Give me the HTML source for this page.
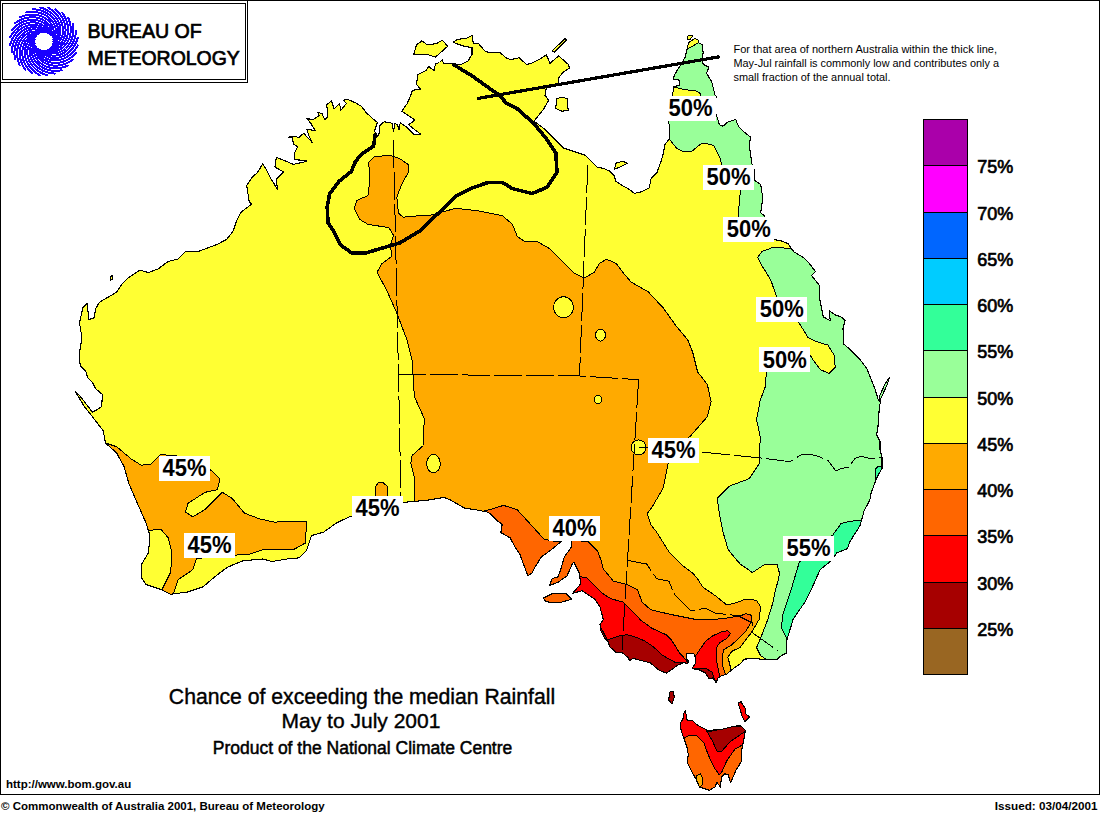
<!DOCTYPE html>
<html><head><meta charset="utf-8"><style>
html,body{margin:0;padding:0;background:#fff;width:1100px;height:813px;overflow:hidden}
svg{position:absolute;left:0;top:0;font-family:"Liberation Sans",sans-serif}
</style></head><body>
<svg width="1100" height="813" viewBox="0 0 1100 813" shape-rendering="crispEdges">
<rect x="0.5" y="0.5" width="1099" height="794" fill="#fff" stroke="#000" stroke-width="1"/>
<defs><clipPath id="land">
<polygon points="170.7,594.3 160.9,589.4 146.1,584.5 141.2,577.1 141.2,564.8 148.6,552.5 149.8,535.3 146.1,523.0 136.3,500.9 128.9,483.6 124.0,466.4 116.6,452.9 105.5,443.0 103.3,430.9 93.5,418.1 84.0,406.0 75.0,391.0 80.0,396.0 92.5,412.2 99.4,408.2 101.8,406.3 102.3,394.4 95.4,388.5 92.5,382.6 87.6,377.7 85.6,370.8 80.2,365.9 79.7,360.0 79.5,352.5 82.0,337.8 79.5,323.0 82.9,307.5 87.2,303.2 88.9,319.5 94.1,317.8 95.8,308.4 99.3,302.3 116.4,292.3 121.3,284.9 128.7,277.5 139.8,270.1 148.4,272.6 158.2,268.9 168.1,261.5 177.9,259.0 185.3,251.7 197.6,251.7 217.3,244.3 226.4,239.6 233.2,231.0 236.9,220.0 240.6,212.6 251.7,204.0 249.2,201.5 246.7,185.5 251.7,178.1 257.8,172.0 262.7,164.0 266.4,169.5 271.3,179.4 277.5,189.2 276.3,179.4 283.6,172.0 275.0,167.0 276.3,157.2 284.0,160.4 293.5,164.4 306.4,161.5 306.0,160.5 294.9,159.7 294.2,153.6 297.6,146.8 293.5,144.1 292.2,137.4 288.1,137.4 292.0,136.0 299.0,137.4 303.7,133.3 312.5,142.8 308.4,134.7 307.0,129.2 315.2,130.6 311.1,123.8 307.0,118.4 312.5,119.8 319.2,115.7 317.9,112.3 322.0,113.7 324.7,119.8 327.4,117.1 327.4,110.3 326.7,104.9 331.4,100.8 334.1,108.9 339.5,103.5 340.9,110.3 346.3,103.5 343.6,100.1 347.7,99.5 355.8,102.9 361.2,106.2 366.6,113.0 374.7,120.4 377.4,122.5 374.7,130.6 376.1,136.0 374.7,138.7 378.8,134.7 380.1,125.2 384.2,121.8 390.0,122.5 392.2,123.4 393.5,131.5 394.9,123.4 397.6,124.7 398.9,130.1 400.3,122.7 407.1,127.4 413.8,134.2 420.6,134.2 408.4,124.7 415.2,120.0 409.8,116.6 401.7,111.2 407.1,103.7 409.8,97.7 412.5,90.2 420.6,89.5 416.5,84.1 417.9,74.7 426.0,70.6 428.7,66.5 434.1,70.6 435.5,63.8 439.5,62.5 442.2,59.8 443.6,63.8 453.1,63.8 461.2,64.5 468.0,61.1 472.0,54.4 472.0,47.6 463.9,46.2 455.8,43.5 453.1,42.2 457.1,39.5 466.6,38.1 472.0,35.4 473.4,43.5 478.6,43.6 484.8,51.0 489.7,52.8 499.5,52.2 506.9,58.4 510.6,59.6 519.2,57.8 526.6,64.5 531.5,63.3 538.9,59.6 546.3,54.7 550.0,63.3 558.6,55.9 568.4,64.5 569.6,68.2 563.5,71.9 558.6,78.0 558.6,84.2 546.3,87.9 545.0,95.3 548.7,100.2 543.8,108.8 538.9,115.0 534.0,121.1 543.5,128.2 563.2,147.9 585.3,155.3 597.6,167.6 603.0,168.2 609.8,171.2 614.8,176.1 615.3,181.0 622.6,185.9 628.5,188.9 634.4,193.3 641.3,191.9 649.2,187.9 651.2,178.1 657.1,172.2 661.0,161.3 663.0,154.4 665.0,144.6 669.9,137.7 669.9,129.8 668.4,120.0 668.0,118.4 672.5,95.5 673.8,86.8 679.8,85.1 678.9,80.0 672.9,79.1 675.5,73.1 679.8,66.2 685.0,57.6 687.6,47.2 688.4,42.9 694.5,38.6 697.9,39.5 698.8,42.9 702.2,44.6 703.1,52.4 702.6,58.4 703.1,64.5 709.1,67.0 706.5,73.1 711.7,81.7 713.4,88.6 715.1,95.5 716.1,96.3 714.9,111.0 716.1,114.1 719.5,124.9 722.9,126.2 727.6,122.2 735.7,119.5 738.4,126.2 743.8,131.7 750.6,137.1 749.2,145.2 750.6,154.7 752.0,164.1 754.7,170.9 754.7,180.4 760.7,184.4 762.8,198.0 760.7,212.8 764.1,215.5 773.8,239.7 779.7,240.4 787.8,243.4 793.8,251.8 803.6,257.7 809.5,263.6 815.4,271.5 811.5,275.4 819.4,285.3 819.4,297.1 823.3,316.8 830.2,320.7 829.2,310.9 835.1,314.8 841.0,316.8 845.0,320.7 843.0,328.6 844.0,344.3 850.9,350.2 858.7,358.1 866.6,368.0 870.6,377.8 874.5,387.6 878.4,400.0 880.8,400.0 879.3,407.6 878.0,426.5 876.6,434.7 880.0,441.4 880.0,449.5 882.0,457.7 882.0,468.5 876.6,478.0 871.2,492.8 869.8,500.0 864.1,510.9 860.0,525.6 849.5,542.3 847.4,548.6 836.9,552.8 830.7,561.1 820.2,569.5 811.8,588.3 805.6,600.9 793.0,619.7 786.7,640.6 786.3,653.0 781.0,655.8 776.9,659.8 767.4,659.8 753.9,658.5 744.4,659.1 740.0,664.1 732.8,669.0 726.9,674.0 721.0,676.0 718.0,677.9 716.1,682.8 713.1,677.9 709.2,678.9 705.3,673.0 699.4,670.0 694.4,669.0 692.5,668.0 695.0,664.0 696.0,659.0 694.0,654.0 690.0,653.0 686.6,654.0 686.0,658.0 689.0,662.0 687.0,664.0 684.6,662.2 677.7,665.1 673.8,668.0 666.4,673.1 659.0,670.2 650.2,662.8 641.3,660.6 633.2,658.4 629.5,660.6 628.0,657.6 622.1,652.5 616.2,652.5 609.6,646.6 608.1,641.4 604.4,637.7 600.7,630.3 600.0,624.4 603.3,619.8 599.9,606.5 594.4,598.8 586.1,593.4 582.0,590.7 572.5,593.4 580.7,583.9 579.3,573.1 573.9,562.2 572.5,563.6 567.1,575.8 557.7,582.5 549.5,585.3 552.2,578.5 557.7,577.1 560.4,570.4 564.4,556.8 571.2,547.4 571.2,540.6 561.7,540.6 559.0,543.3 550.9,550.1 541.4,556.8 534.7,567.7 532.0,573.1 527.9,575.8 523.8,565.0 519.8,554.1 514.4,546.0 510.3,537.9 500.8,532.5 502.2,524.4 496.8,520.3 490.0,513.5 486.9,512.0 474.6,509.5 464.8,508.3 450.0,499.7 444.0,497.4 429.2,500.0 403.4,502.4 348.4,517.2 336.1,523.3 323.8,532.0 311.5,535.6 306.6,550.4 299.2,557.8 286.9,559.0 272.1,561.5 262.3,559.0 250.0,560.2 242.0,561.1 227.3,567.3 217.4,574.7 202.7,587.0 187.9,591.9"/>
<polygon points="413.8,54.4 416.5,44.9 421.9,40.8 427.4,44.9 436.8,43.5 442.2,40.1 447.7,46.2 435.5,57.1 427.4,54.4"/>
<polygon points="556.0,99.0 562.0,97.0 568.0,99.0 567.0,104.0 568.4,110.0 562.0,111.3 555.0,108.0 557.0,103.0"/>
<polygon points="552.0,51.0 554.5,52.0 566.5,40.0 565.0,38.5"/>
<polygon points="110.0,277.0 112.0,275.5 113.0,279.0 110.5,280.0"/>
<polygon points="687.1,36.5 690.0,35.2 692.7,36.0 690.0,39.5 687.5,39.0"/>
<polygon points="614.6,169.2 615.7,163.3 622.6,161.3 627.6,163.3 623.6,165.3 619.7,167.2"/>
<polygon points="543.5,598.0 553.3,593.2 565.6,593.2 571.8,599.3 558.2,603.0 546.0,601.8"/>
<polygon points="889.3,377.8 887.0,385.0 882.0,396.0 879.0,402.0 880.0,395.0 885.0,384.0"/>
<polygon points="684.4,711.1 682.8,719.4 680.5,722.7 681.1,730.5 683.9,738.2 687.2,748.2 688.3,754.8 687.2,762.6 691.6,771.4 696.0,779.2 699.4,787.0 709.3,790.3 714.9,787.0 717.1,782.5 720.4,787.0 721.5,777.0 724.8,773.7 728.2,774.8 730.4,782.5 732.6,778.1 735.9,770.3 741.4,761.5 741.4,751.5 743.7,740.4 745.3,730.5 740.3,725.5 732.6,726.6 721.5,729.4 708.2,730.5 697.1,724.9 692.2,720.0 687.2,720.5 685.5,711.0"/><polygon points="670.0,692.0 673.0,691.0 674.4,697.0 672.0,704.0 668.5,700.0"/><polygon points="738.0,703.0 741.0,701.7 745.0,708.0 746.0,714.0 749.6,717.0 745.0,721.7 742.0,716.0 740.0,709.0"/>
</clipPath></defs>
<g clip-path="url(#land)">
<rect x="0" y="0" width="1100" height="813" fill="#FFFF33"/>
<polygon points="660.0,139.0 669.9,139.7 676.8,148.5 682.7,151.5 691.5,151.5 700.0,144.6 703.8,143.0 713.6,145.5 719.8,157.8 720.7,160.0 722.3,172.5 740.6,189.5 739.1,204.3 738.4,216.8 738.0,232.0 800.0,232.0 800.0,20.0 660.0,20.0" fill="#99FF99" stroke="#000" stroke-width="1" stroke-linejoin="round"/>
<polygon points="684.0,34.0 700.0,34.0 698.3,42.9 688.4,48.5 684.0,48.5" fill="#FFFF33" stroke="#000" stroke-width="1" stroke-linejoin="round"/>
<polygon points="668.0,86.8 672.9,86.8 684.1,89.4 697.0,91.2 700.5,93.7 701.0,100.0 668.0,100.0" fill="#FFFF33" stroke="#000" stroke-width="1" stroke-linejoin="round"/>
<polygon points="790.0,248.6 773.8,247.1 762.0,251.5 757.6,257.4 760.5,263.3 770.8,280.0 776.3,296.0 780.0,310.0 798.4,321.8 808.2,337.8 815.6,341.4 828.0,345.1 834.0,355.0 835.3,367.3 829.2,373.4 820.5,369.7 813.2,360.0 810.0,355.0 790.0,365.0 766.4,372.0 765.2,387.0 760.3,400.0 756.6,419.7 760.3,437.0 759.0,464.0 749.2,478.7 729.5,486.1 717.2,498.4 719.7,515.6 723.0,532.0 728.0,549.2 734.4,557.4 740.2,564.0 752.5,572.6 764.0,564.8 777.1,564.0 779.6,573.8 778.2,580.0 774.7,593.5 772.8,603.0 767.4,620.6 760.6,638.2 756.6,647.6 760.6,655.8 767.4,659.8 780.0,700.0 950.0,700.0 950.0,240.0 800.0,240.0" fill="#99FF99" stroke="#000" stroke-width="1" stroke-linejoin="round"/>
<polygon points="862.0,520.0 849.5,521.4 841.1,523.5 832.8,535.0 799.3,562.2 790.9,590.4 782.6,615.5 781.5,628.1 786.7,638.5 800.0,660.0 900.0,660.0 900.0,520.0" fill="#33FF99" stroke="#000" stroke-width="1" stroke-linejoin="round"/>
<polygon points="875.2,478.0 875.5,469.0 878.0,466.5 890.0,466.0 890.0,480.0" fill="#33FF99" stroke="#000" stroke-width="1" stroke-linejoin="round"/>
<polygon points="368.8,162.0 374.4,156.4 390.4,155.6 400.0,158.8 408.0,164.4 408.8,171.6 401.6,184.4 396.8,197.2 398.4,213.2 403.2,217.2 420.0,215.6 428.7,215.7 455.8,208.3 477.9,210.8 502.5,215.7 512.4,224.3 517.3,236.6 524.7,241.5 537.0,241.5 550.0,248.9 562.3,261.2 574.6,273.5 584.4,277.9 594.3,272.2 599.2,263.6 606.6,259.2 616.4,263.6 623.8,273.5 631.2,282.1 648.4,292.0 663.2,307.9 675.5,325.1 687.8,339.9 692.7,352.2 697.6,371.9 707.4,384.6 711.1,401.8 707.4,416.6 690.2,436.3 672.0,450.0 668.1,463.3 663.2,487.9 653.3,505.1 647.2,513.8 650.9,524.8 656.6,532.0 668.9,551.7 683.6,566.4 693.5,573.8 698.4,580.0 702.5,586.8 716.0,596.2 726.8,605.0 737.6,602.3 745.8,599.0 756.6,600.3 760.6,607.0 759.3,619.2 751.2,632.8 740.0,647.4 731.9,651.3 727.9,657.2 730.9,669.0 731.0,690.0 414.0,690.0 414.4,500.0 414.4,477.8 410.8,463.0 412.0,455.6 423.0,445.8 424.3,418.7 414.4,396.6 412.0,359.7 407.0,340.0 396.7,312.8 386.9,290.7 377.0,272.2 382.0,263.6 391.8,256.3 390.4,245.0 393.6,235.6 388.8,227.6 368.0,224.4 360.0,219.6 354.4,208.4 356.8,200.4 368.0,195.6 369.6,182.8" fill="#FFAA00" stroke="#000" stroke-width="1" stroke-linejoin="round"/>
<polygon points="105.5,443.0 116.6,446.7 131.3,459.0 141.2,465.2 151.0,464.0 160.9,454.1 168.2,455.3 190.0,457.0 212.5,471.3 219.9,478.7 217.4,489.8 205.1,492.3 188.0,503.3 185.5,512.0 192.8,516.9 205.1,509.5 222.4,492.3 232.2,498.4 244.5,513.2 260.0,519.0 274.6,522.1 306.6,521.0 305.4,543.0 294.3,549.2 264.8,549.2 250.0,554.0 237.1,555.0 210.0,557.0 196.5,558.7 192.8,569.7 178.1,579.6 173.2,594.3 173.0,615.0 160.0,615.0 162.1,589.4 170.7,572.2 172.0,552.5 168.2,537.8 160.9,529.2 149.8,530.4 120.0,530.0 90.0,443.0" fill="#FFAA00" stroke="#000" stroke-width="1" stroke-linejoin="round"/>
<polygon points="376.0,496.3 375.5,487.0 378.0,483.0 383.0,482.7 387.0,486.0 387.8,496.3" fill="#FFAA00" stroke="#000" stroke-width="1" stroke-linejoin="round"/>
<ellipse cx="563.5" cy="307.3" rx="10" ry="10.5" fill="#FFFF33" stroke="#000" stroke-width="1"/>
<ellipse cx="600.5" cy="335" rx="5" ry="6" fill="#FFFF33" stroke="#000" stroke-width="1"/>
<ellipse cx="598" cy="399.7" rx="3.8" ry="4" fill="#FFFF33" stroke="#000" stroke-width="1"/>
<ellipse cx="638.6" cy="447.4" rx="7.5" ry="7.5" fill="#FFFF33" stroke="#000" stroke-width="1"/>
<ellipse cx="433.5" cy="463.6" rx="6.8" ry="9.2" fill="#FFFF33" stroke="#000" stroke-width="1"/>
<polygon points="480.0,512.0 490.0,509.5 503.5,505.4 517.0,509.5 530.6,524.4 544.1,539.2 557.6,541.9 570.5,540.3 587.8,541.5 597.6,551.3 601.0,560.0 603.3,568.9 613.2,581.0 626.5,584.4 637.6,589.9 642.0,602.1 650.9,609.8 670.0,614.3 697.4,619.8 721.0,618.9 740.0,615.9 745.8,613.8 751.2,615.2 751.2,622.0 745.8,631.4 738.7,638.5 730.9,645.4 724.0,649.4 723.0,653.3 722.0,664.1 725.0,673.0 725.0,690.0 480.0,690.0" fill="#FF6600" stroke="#000" stroke-width="1" stroke-linejoin="round"/>
<polygon points="572.0,590.0 580.0,576.6 586.6,577.7 602.1,593.2 611.0,598.8 623.2,602.1 633.2,612.0 640.6,620.0 651.7,628.1 660.0,632.1 666.4,634.8 670.8,639.2 673.8,643.5 679.7,653.3 683.6,657.2 690.0,665.0 695.9,655.3 701.3,647.4 706.3,640.5 713.1,635.6 721.0,632.1 727.9,630.7 730.4,633.6 726.9,638.5 720.0,642.5 716.6,647.4 716.1,654.3 717.1,664.1 719.1,673.0 719.0,690.0 600.0,690.0 590.0,615.0 573.0,598.0" fill="#FF0000" stroke="#000" stroke-width="1" stroke-linejoin="round"/>
<polygon points="598.0,622.0 607.4,640.0 620.7,635.5 626.6,634.8 633.2,636.2 644.3,640.7 653.1,646.6 662.7,655.4 674.8,662.2 682.6,663.1 684.0,672.0 680.0,690.0 598.0,690.0" fill="#A60000" stroke="#000" stroke-width="1" stroke-linejoin="round"/>
<polygon points="694.4,668.0 705.0,668.0 712.0,672.0 714.0,678.0 716.5,684.0 709.0,681.0 700.0,674.0" fill="#A60000" stroke="#000" stroke-width="1" stroke-linejoin="round"/>
<polygon points="684.4,711.1 682.8,719.4 680.5,722.7 681.1,730.5 683.9,738.2 687.2,748.2 688.3,754.8 687.2,762.6 691.6,771.4 696.0,779.2 699.4,787.0 709.3,790.3 714.9,787.0 717.1,782.5 720.4,787.0 721.5,777.0 724.8,773.7 728.2,774.8 730.4,782.5 732.6,778.1 735.9,770.3 741.4,761.5 741.4,751.5 743.7,740.4 745.3,730.5 740.3,725.5 732.6,726.6 721.5,729.4 708.2,730.5 697.1,724.9 692.2,720.0 687.2,720.5 685.5,711.0" fill="#FF0000"/>
<polygon points="705.0,728.0 709.3,731.6 719.3,729.4 732.6,726.6 741.4,726.0 748.0,730.0 744.8,731.6 730.4,741.5 721.5,751.5 717.1,751.5 712.7,741.5" fill="#A60000" stroke="#000" stroke-width="1" stroke-linejoin="round"/>
<polygon points="676.0,738.5 683.9,738.2 689.4,735.5 697.1,736.0 703.8,742.7 708.2,754.8 713.8,767.0 719.3,774.8 721.5,772.6 727.0,760.4 734.8,749.3 742.6,744.9 752.0,744.0 752.0,800.0 676.0,800.0" fill="#FF6600" stroke="#000" stroke-width="1" stroke-linejoin="round"/>
<polygon points="696,775.9 700.5,773.7 702.7,778.1 702.7,784.7 699.4,787 697,781" fill="#FFAA00" stroke="#000" stroke-width="1"/>
<polygon points="670.0,692.0 673.0,691.0 674.4,697.0 672.0,704.0 668.5,700.0" fill="#A60000"/>
<polygon points="738.0,703.0 741.0,701.7 745.0,708.0 746.0,714.0 749.6,717.0 745.0,721.7 742.0,716.0 740.0,709.0" fill="#FF0000"/>
</g>
<g fill="none" stroke="#000" stroke-width="1.1" stroke-linejoin="round">
<polygon points="170.7,594.3 160.9,589.4 146.1,584.5 141.2,577.1 141.2,564.8 148.6,552.5 149.8,535.3 146.1,523.0 136.3,500.9 128.9,483.6 124.0,466.4 116.6,452.9 105.5,443.0 103.3,430.9 93.5,418.1 84.0,406.0 75.0,391.0 80.0,396.0 92.5,412.2 99.4,408.2 101.8,406.3 102.3,394.4 95.4,388.5 92.5,382.6 87.6,377.7 85.6,370.8 80.2,365.9 79.7,360.0 79.5,352.5 82.0,337.8 79.5,323.0 82.9,307.5 87.2,303.2 88.9,319.5 94.1,317.8 95.8,308.4 99.3,302.3 116.4,292.3 121.3,284.9 128.7,277.5 139.8,270.1 148.4,272.6 158.2,268.9 168.1,261.5 177.9,259.0 185.3,251.7 197.6,251.7 217.3,244.3 226.4,239.6 233.2,231.0 236.9,220.0 240.6,212.6 251.7,204.0 249.2,201.5 246.7,185.5 251.7,178.1 257.8,172.0 262.7,164.0 266.4,169.5 271.3,179.4 277.5,189.2 276.3,179.4 283.6,172.0 275.0,167.0 276.3,157.2 284.0,160.4 293.5,164.4 306.4,161.5 306.0,160.5 294.9,159.7 294.2,153.6 297.6,146.8 293.5,144.1 292.2,137.4 288.1,137.4 292.0,136.0 299.0,137.4 303.7,133.3 312.5,142.8 308.4,134.7 307.0,129.2 315.2,130.6 311.1,123.8 307.0,118.4 312.5,119.8 319.2,115.7 317.9,112.3 322.0,113.7 324.7,119.8 327.4,117.1 327.4,110.3 326.7,104.9 331.4,100.8 334.1,108.9 339.5,103.5 340.9,110.3 346.3,103.5 343.6,100.1 347.7,99.5 355.8,102.9 361.2,106.2 366.6,113.0 374.7,120.4 377.4,122.5 374.7,130.6 376.1,136.0 374.7,138.7 378.8,134.7 380.1,125.2 384.2,121.8 390.0,122.5 392.2,123.4 393.5,131.5 394.9,123.4 397.6,124.7 398.9,130.1 400.3,122.7 407.1,127.4 413.8,134.2 420.6,134.2 408.4,124.7 415.2,120.0 409.8,116.6 401.7,111.2 407.1,103.7 409.8,97.7 412.5,90.2 420.6,89.5 416.5,84.1 417.9,74.7 426.0,70.6 428.7,66.5 434.1,70.6 435.5,63.8 439.5,62.5 442.2,59.8 443.6,63.8 453.1,63.8 461.2,64.5 468.0,61.1 472.0,54.4 472.0,47.6 463.9,46.2 455.8,43.5 453.1,42.2 457.1,39.5 466.6,38.1 472.0,35.4 473.4,43.5 478.6,43.6 484.8,51.0 489.7,52.8 499.5,52.2 506.9,58.4 510.6,59.6 519.2,57.8 526.6,64.5 531.5,63.3 538.9,59.6 546.3,54.7 550.0,63.3 558.6,55.9 568.4,64.5 569.6,68.2 563.5,71.9 558.6,78.0 558.6,84.2 546.3,87.9 545.0,95.3 548.7,100.2 543.8,108.8 538.9,115.0 534.0,121.1 543.5,128.2 563.2,147.9 585.3,155.3 597.6,167.6 603.0,168.2 609.8,171.2 614.8,176.1 615.3,181.0 622.6,185.9 628.5,188.9 634.4,193.3 641.3,191.9 649.2,187.9 651.2,178.1 657.1,172.2 661.0,161.3 663.0,154.4 665.0,144.6 669.9,137.7 669.9,129.8 668.4,120.0 668.0,118.4 672.5,95.5 673.8,86.8 679.8,85.1 678.9,80.0 672.9,79.1 675.5,73.1 679.8,66.2 685.0,57.6 687.6,47.2 688.4,42.9 694.5,38.6 697.9,39.5 698.8,42.9 702.2,44.6 703.1,52.4 702.6,58.4 703.1,64.5 709.1,67.0 706.5,73.1 711.7,81.7 713.4,88.6 715.1,95.5 716.1,96.3 714.9,111.0 716.1,114.1 719.5,124.9 722.9,126.2 727.6,122.2 735.7,119.5 738.4,126.2 743.8,131.7 750.6,137.1 749.2,145.2 750.6,154.7 752.0,164.1 754.7,170.9 754.7,180.4 760.7,184.4 762.8,198.0 760.7,212.8 764.1,215.5 773.8,239.7 779.7,240.4 787.8,243.4 793.8,251.8 803.6,257.7 809.5,263.6 815.4,271.5 811.5,275.4 819.4,285.3 819.4,297.1 823.3,316.8 830.2,320.7 829.2,310.9 835.1,314.8 841.0,316.8 845.0,320.7 843.0,328.6 844.0,344.3 850.9,350.2 858.7,358.1 866.6,368.0 870.6,377.8 874.5,387.6 878.4,400.0 880.8,400.0 879.3,407.6 878.0,426.5 876.6,434.7 880.0,441.4 880.0,449.5 882.0,457.7 882.0,468.5 876.6,478.0 871.2,492.8 869.8,500.0 864.1,510.9 860.0,525.6 849.5,542.3 847.4,548.6 836.9,552.8 830.7,561.1 820.2,569.5 811.8,588.3 805.6,600.9 793.0,619.7 786.7,640.6 786.3,653.0 781.0,655.8 776.9,659.8 767.4,659.8 753.9,658.5 744.4,659.1 740.0,664.1 732.8,669.0 726.9,674.0 721.0,676.0 718.0,677.9 716.1,682.8 713.1,677.9 709.2,678.9 705.3,673.0 699.4,670.0 694.4,669.0 692.5,668.0 695.0,664.0 696.0,659.0 694.0,654.0 690.0,653.0 686.6,654.0 686.0,658.0 689.0,662.0 687.0,664.0 684.6,662.2 677.7,665.1 673.8,668.0 666.4,673.1 659.0,670.2 650.2,662.8 641.3,660.6 633.2,658.4 629.5,660.6 628.0,657.6 622.1,652.5 616.2,652.5 609.6,646.6 608.1,641.4 604.4,637.7 600.7,630.3 600.0,624.4 603.3,619.8 599.9,606.5 594.4,598.8 586.1,593.4 582.0,590.7 572.5,593.4 580.7,583.9 579.3,573.1 573.9,562.2 572.5,563.6 567.1,575.8 557.7,582.5 549.5,585.3 552.2,578.5 557.7,577.1 560.4,570.4 564.4,556.8 571.2,547.4 571.2,540.6 561.7,540.6 559.0,543.3 550.9,550.1 541.4,556.8 534.7,567.7 532.0,573.1 527.9,575.8 523.8,565.0 519.8,554.1 514.4,546.0 510.3,537.9 500.8,532.5 502.2,524.4 496.8,520.3 490.0,513.5 486.9,512.0 474.6,509.5 464.8,508.3 450.0,499.7 444.0,497.4 429.2,500.0 403.4,502.4 348.4,517.2 336.1,523.3 323.8,532.0 311.5,535.6 306.6,550.4 299.2,557.8 286.9,559.0 272.1,561.5 262.3,559.0 250.0,560.2 242.0,561.1 227.3,567.3 217.4,574.7 202.7,587.0 187.9,591.9"/>
<polygon points="413.8,54.4 416.5,44.9 421.9,40.8 427.4,44.9 436.8,43.5 442.2,40.1 447.7,46.2 435.5,57.1 427.4,54.4"/>
<polygon points="556.0,99.0 562.0,97.0 568.0,99.0 567.0,104.0 568.4,110.0 562.0,111.3 555.0,108.0 557.0,103.0"/>
<polygon points="552.0,51.0 554.5,52.0 566.5,40.0 565.0,38.5"/>
<polygon points="110.0,277.0 112.0,275.5 113.0,279.0 110.5,280.0"/>
<polygon points="687.1,36.5 690.0,35.2 692.7,36.0 690.0,39.5 687.5,39.0"/>
<polygon points="614.6,169.2 615.7,163.3 622.6,161.3 627.6,163.3 623.6,165.3 619.7,167.2"/>
<polygon points="543.5,598.0 553.3,593.2 565.6,593.2 571.8,599.3 558.2,603.0 546.0,601.8"/>
<polygon points="889.3,377.8 887.0,385.0 882.0,396.0 879.0,402.0 880.0,395.0 885.0,384.0"/>
<polygon points="684.4,711.1 682.8,719.4 680.5,722.7 681.1,730.5 683.9,738.2 687.2,748.2 688.3,754.8 687.2,762.6 691.6,771.4 696.0,779.2 699.4,787.0 709.3,790.3 714.9,787.0 717.1,782.5 720.4,787.0 721.5,777.0 724.8,773.7 728.2,774.8 730.4,782.5 732.6,778.1 735.9,770.3 741.4,761.5 741.4,751.5 743.7,740.4 745.3,730.5 740.3,725.5 732.6,726.6 721.5,729.4 708.2,730.5 697.1,724.9 692.2,720.0 687.2,720.5 685.5,711.0"/><polygon points="670.0,692.0 673.0,691.0 674.4,697.0 672.0,704.0 668.5,700.0"/><polygon points="738.0,703.0 741.0,701.7 745.0,708.0 746.0,714.0 749.6,717.0 745.0,721.7 742.0,716.0 740.0,709.0"/>
</g>
<g fill="none" stroke="#000" stroke-width="1" stroke-dasharray="28,4">
<polyline points="393.4,140.0 398.5,374.4 401.0,502.0"/>
<polyline points="587.8,165.0 579.5,376.0"/>
<polyline points="398.5,374.4 579.5,376.0 638.6,379.7"/>
<polyline points="638.6,379.7 627.5,560.0 622.0,650.0"/>
<polyline points="638.6,447.0 703.7,452.3 759.0,457.8 790.0,461.7 795.4,458.3 802.2,454.3 810.3,454.3 818.4,456.3 827.9,460.4 836.0,471.2 841.4,468.5 848.2,467.1 851.6,463.1 855.0,458.3 861.7,456.3 871.2,459.0 882.0,457.0"/>
<polyline points="627.0,560.3 646.7,564.0 656.6,578.7 669.0,581.2 673.8,593.5 691.0,610.7 705.8,608.2 715.6,613.2 737.8,615.6 752.5,623.0 752.5,632.8 778.2,651.0"/>
</g>
<polyline points="375.2,134.8 373.6,146.0 361.6,154.0 355.2,162.0 351.2,171.6 339.2,181.2 329.6,194.0 327.2,206.8 328.0,222.8 334.4,232.4 340.8,245.2 352.0,253.2 364.8,253.2 384.0,247.6 400.0,242.8 420.0,230.8 426.3,224.3 441.0,210.8 455.8,196.0 470.5,188.6 487.8,182.5 502.5,182.5 512.4,188.6 532.0,193.5 546.8,187.4 557.0,172.5 555.8,152.8 545.0,137.0 533.6,123.3 517.5,109.0 506.4,103.1 499.0,95.0 481.3,82.5 471.0,75.1 462.1,69.9 454.0,64.8" fill="none" stroke="#000" stroke-width="3.6" stroke-linejoin="round" stroke-linecap="round"/>
<line x1="478.6" y1="98.3" x2="718.6" y2="56.9" stroke="#000" stroke-width="3.2" stroke-linecap="round"/>
<rect x="665" y="96" width="51" height="24.5" fill="#fff"/>
<text x="668.6" y="116.2" font-size="23.5" font-weight="bold" textLength="44" lengthAdjust="spacingAndGlyphs">50%</text>
<rect x="703" y="165.2" width="51" height="24.5" fill="#fff"/>
<text x="706.6" y="185.39999999999998" font-size="23.5" font-weight="bold" textLength="44" lengthAdjust="spacingAndGlyphs">50%</text>
<rect x="723.2" y="217.2" width="51" height="24.5" fill="#fff"/>
<text x="726.8000000000001" y="237.39999999999998" font-size="23.5" font-weight="bold" textLength="44" lengthAdjust="spacingAndGlyphs">50%</text>
<rect x="756.1" y="297.2" width="51" height="24.5" fill="#fff"/>
<text x="759.7" y="317.4" font-size="23.5" font-weight="bold" textLength="44" lengthAdjust="spacingAndGlyphs">50%</text>
<rect x="759.1" y="347.4" width="51" height="24.5" fill="#fff"/>
<text x="762.7" y="367.59999999999997" font-size="23.5" font-weight="bold" textLength="44" lengthAdjust="spacingAndGlyphs">50%</text>
<rect x="648" y="438" width="51" height="24.5" fill="#fff"/>
<text x="651.6" y="458.2" font-size="23.5" font-weight="bold" textLength="44" lengthAdjust="spacingAndGlyphs">45%</text>
<rect x="783" y="536" width="51" height="24.5" fill="#fff"/>
<text x="786.6" y="556.2" font-size="23.5" font-weight="bold" textLength="44" lengthAdjust="spacingAndGlyphs">55%</text>
<rect x="548.9" y="516" width="51" height="24.5" fill="#fff"/>
<text x="552.5" y="536.2" font-size="23.5" font-weight="bold" textLength="44" lengthAdjust="spacingAndGlyphs">40%</text>
<rect x="352" y="496" width="51" height="24.5" fill="#fff"/>
<text x="355.6" y="516.2" font-size="23.5" font-weight="bold" textLength="44" lengthAdjust="spacingAndGlyphs">45%</text>
<rect x="158.9" y="456" width="51" height="24.5" fill="#fff"/>
<text x="162.5" y="476.2" font-size="23.5" font-weight="bold" textLength="44" lengthAdjust="spacingAndGlyphs">45%</text>
<rect x="184" y="533" width="51" height="24.5" fill="#fff"/>
<text x="187.6" y="553.2" font-size="23.5" font-weight="bold" textLength="44" lengthAdjust="spacingAndGlyphs">45%</text>
<rect x="923.5" y="119.50" width="44" height="46.27" fill="#AA00AA" stroke="#000" stroke-width="1"/>
<rect x="923.5" y="165.77" width="44" height="46.27" fill="#FF00FF" stroke="#000" stroke-width="1"/>
<rect x="923.5" y="212.03" width="44" height="46.27" fill="#0066FF" stroke="#000" stroke-width="1"/>
<rect x="923.5" y="258.30" width="44" height="46.27" fill="#00CCFF" stroke="#000" stroke-width="1"/>
<rect x="923.5" y="304.57" width="44" height="46.27" fill="#33FF99" stroke="#000" stroke-width="1"/>
<rect x="923.5" y="350.83" width="44" height="46.27" fill="#99FF99" stroke="#000" stroke-width="1"/>
<rect x="923.5" y="397.10" width="44" height="46.27" fill="#FFFF33" stroke="#000" stroke-width="1"/>
<rect x="923.5" y="443.37" width="44" height="46.27" fill="#FFAA00" stroke="#000" stroke-width="1"/>
<rect x="923.5" y="489.63" width="44" height="46.27" fill="#FF6600" stroke="#000" stroke-width="1"/>
<rect x="923.5" y="535.90" width="44" height="46.27" fill="#FF0000" stroke="#000" stroke-width="1"/>
<rect x="923.5" y="582.17" width="44" height="46.27" fill="#A60000" stroke="#000" stroke-width="1"/>
<rect x="923.5" y="628.43" width="44" height="46.27" fill="#996622" stroke="#000" stroke-width="1"/>
<text x="977.3" y="173.3" font-size="18" stroke="#000" stroke-width="0.7">75%</text>
<text x="977.3" y="219.5" font-size="18" stroke="#000" stroke-width="0.7">70%</text>
<text x="977.3" y="265.8" font-size="18" stroke="#000" stroke-width="0.7">65%</text>
<text x="977.3" y="312.1" font-size="18" stroke="#000" stroke-width="0.7">60%</text>
<text x="977.3" y="358.3" font-size="18" stroke="#000" stroke-width="0.7">55%</text>
<text x="977.3" y="404.6" font-size="18" stroke="#000" stroke-width="0.7">50%</text>
<text x="977.3" y="450.9" font-size="18" stroke="#000" stroke-width="0.7">45%</text>
<text x="977.3" y="497.1" font-size="18" stroke="#000" stroke-width="0.7">40%</text>
<text x="977.3" y="543.4" font-size="18" stroke="#000" stroke-width="0.7">35%</text>
<text x="977.3" y="589.7" font-size="18" stroke="#000" stroke-width="0.7">30%</text>
<text x="977.3" y="635.9" font-size="18" stroke="#000" stroke-width="0.7">25%</text>
<rect x="2.5" y="3.5" width="243" height="76" fill="none" stroke="#000" stroke-width="1"/>
<rect x="0.5" y="0.5" width="247" height="82" fill="none" stroke="#000" stroke-width="1"/>
<g fill="none" stroke="#1A00FF" stroke-width="2.0" stroke-linecap="round">
<polyline points="53.4,41.4 54.4,40.6 55.3,39.6 56.1,38.4 56.8,37.2 57.4,35.8 57.8,34.3 58.1,32.6 58.1,30.9 58.0,29.2 57.7,27.4 57.3,25.5 56.6,23.7 55.6,21.9 54.5,20.1 53.2,18.4 51.6,16.8 49.9,15.2 47.9,13.8 45.8,12.6 43.5,11.5 41.1,10.6 38.5,9.9 35.7,9.4 32.9,9.2"/>
<polyline points="53.2,43.5 54.3,42.9 55.4,42.2 56.5,41.2 57.4,40.1 58.3,38.9 59.0,37.5 59.6,36.0 60.1,34.4 60.4,32.6 60.5,30.8 60.4,28.9 60.2,27.0 59.7,25.0 59.0,23.0 58.1,21.0 56.9,19.1 55.6,17.2 54.0,15.4 52.2,13.7 50.2,12.2 48.0,10.7 45.6,9.5 43.1,8.4 40.3,7.6"/>
<polyline points="52.5,45.5 53.7,45.2 55.0,44.7 56.2,44.0 57.4,43.2 58.5,42.2 59.5,41.0 60.5,39.6 61.3,38.2 61.9,36.5 62.5,34.8 62.8,32.9 63.0,30.9 62.9,28.9 62.7,26.8 62.2,24.7 61.6,22.5 60.7,20.4 59.5,18.3 58.1,16.3 56.5,14.3 54.7,12.4 52.7,10.7 50.4,9.1 48.0,7.6"/>
<polyline points="51.3,47.3 52.6,47.3 53.9,47.1 55.3,46.7 56.6,46.1 57.9,45.4 59.2,44.5 60.4,43.4 61.6,42.1 62.6,40.7 63.5,39.1 64.2,37.3 64.8,35.5 65.2,33.5 65.5,31.4 65.5,29.2 65.3,27.0 64.9,24.7 64.3,22.4 63.4,20.1 62.3,17.8 60.9,15.5 59.3,13.4 57.4,11.3 55.4,9.4"/>
<polyline points="49.8,48.8 51.1,49.1 52.4,49.2 53.8,49.1 55.3,48.9 56.7,48.4 58.2,47.8 59.6,47.0 61.0,46.0 62.3,44.8 63.5,43.5 64.6,42.0 65.6,40.3 66.5,38.4 67.2,36.4 67.7,34.3 68.0,32.1 68.1,29.8 68.0,27.4 67.6,24.9 67.1,22.5 66.2,20.0 65.1,17.5 63.8,15.1 62.2,12.7"/>
<polyline points="48.0,50.0 49.2,50.5 50.5,50.9 51.9,51.1 53.3,51.2 54.8,51.1 56.4,50.8 57.9,50.4 59.5,49.7 61.0,48.8 62.5,47.8 64.0,46.6 65.3,45.1 66.6,43.5 67.7,41.7 68.7,39.8 69.5,37.7 70.1,35.4 70.5,33.1 70.7,30.6 70.7,28.1 70.4,25.5 69.9,22.8 69.1,20.2 68.1,17.5"/>
<polyline points="46.0,50.7 47.0,51.4 48.2,52.1 49.5,52.6 50.9,53.0 52.4,53.3 54.0,53.4 55.6,53.3 57.3,53.0 59.0,52.5 60.7,51.8 62.3,50.9 64.0,49.8 65.5,48.5 67.0,47.0 68.4,45.3 69.7,43.5 70.8,41.4 71.7,39.2 72.4,36.9 73.0,34.4 73.3,31.8 73.4,29.1 73.2,26.3 72.8,23.5"/>
<polyline points="43.9,50.9 44.7,51.9 45.7,52.8 46.9,53.6 48.1,54.3 49.5,54.9 51.0,55.3 52.7,55.6 54.4,55.6 56.1,55.5 57.9,55.2 59.8,54.8 61.6,54.1 63.4,53.1 65.2,52.0 66.9,50.7 68.5,49.1 70.1,47.4 71.5,45.4 72.7,43.3 73.8,41.0 74.7,38.6 75.4,36.0 75.9,33.2 76.1,30.4"/>
<polyline points="41.8,50.7 42.4,51.8 43.1,52.9 44.1,54.0 45.2,54.9 46.4,55.8 47.8,56.5 49.3,57.1 50.9,57.6 52.7,57.9 54.5,58.0 56.4,57.9 58.3,57.7 60.3,57.2 62.3,56.5 64.3,55.6 66.2,54.4 68.1,53.1 69.9,51.5 71.6,49.7 73.1,47.7 74.6,45.5 75.8,43.1 76.9,40.6 77.7,37.8"/>
<polyline points="39.8,50.0 40.1,51.2 40.6,52.5 41.3,53.7 42.1,54.9 43.1,56.0 44.3,57.0 45.7,58.0 47.1,58.8 48.8,59.4 50.5,60.0 52.4,60.3 54.4,60.5 56.4,60.4 58.5,60.2 60.6,59.7 62.8,59.1 64.9,58.2 67.0,57.0 69.0,55.6 71.0,54.0 72.9,52.2 74.6,50.2 76.2,47.9 77.7,45.5"/>
<polyline points="38.0,48.8 38.0,50.1 38.2,51.4 38.6,52.8 39.2,54.1 39.9,55.4 40.8,56.7 41.9,57.9 43.2,59.1 44.6,60.1 46.2,61.0 48.0,61.7 49.8,62.3 51.8,62.7 53.9,63.0 56.1,63.0 58.3,62.8 60.6,62.4 62.9,61.8 65.2,60.9 67.5,59.8 69.8,58.4 71.9,56.8 74.0,54.9 75.9,52.9"/>
<polyline points="36.5,47.3 36.2,48.6 36.1,49.9 36.2,51.3 36.4,52.8 36.9,54.2 37.5,55.7 38.3,57.1 39.3,58.5 40.5,59.8 41.8,61.0 43.3,62.1 45.0,63.1 46.9,64.0 48.9,64.7 51.0,65.2 53.2,65.5 55.5,65.6 57.9,65.5 60.4,65.1 62.8,64.6 65.3,63.7 67.8,62.6 70.2,61.3 72.6,59.7"/>
<polyline points="35.3,45.5 34.8,46.7 34.4,48.0 34.2,49.4 34.1,50.8 34.2,52.3 34.5,53.9 34.9,55.4 35.6,57.0 36.5,58.5 37.5,60.0 38.7,61.5 40.2,62.8 41.8,64.1 43.6,65.2 45.5,66.2 47.6,67.0 49.9,67.6 52.2,68.0 54.7,68.2 57.2,68.2 59.8,67.9 62.5,67.4 65.1,66.6 67.8,65.6"/>
<polyline points="34.6,43.5 33.9,44.5 33.2,45.7 32.7,47.0 32.3,48.4 32.0,49.9 31.9,51.5 32.0,53.1 32.3,54.8 32.8,56.5 33.5,58.2 34.4,59.8 35.5,61.5 36.8,63.0 38.3,64.5 40.0,65.9 41.8,67.2 43.9,68.3 46.1,69.2 48.4,69.9 50.9,70.5 53.5,70.8 56.2,70.9 59.0,70.7 61.8,70.3"/>
<polyline points="34.4,41.4 33.4,42.2 32.5,43.2 31.7,44.4 31.0,45.6 30.4,47.0 30.0,48.5 29.7,50.2 29.7,51.9 29.8,53.6 30.1,55.4 30.5,57.3 31.2,59.1 32.2,60.9 33.3,62.7 34.6,64.4 36.2,66.0 37.9,67.6 39.9,69.0 42.0,70.2 44.3,71.3 46.7,72.2 49.3,72.9 52.1,73.4 54.9,73.6"/>
<polyline points="34.6,39.3 33.5,39.9 32.4,40.6 31.3,41.6 30.4,42.7 29.5,43.9 28.8,45.3 28.2,46.8 27.7,48.4 27.4,50.2 27.3,52.0 27.4,53.9 27.6,55.8 28.1,57.8 28.8,59.8 29.7,61.8 30.9,63.7 32.2,65.6 33.8,67.4 35.6,69.1 37.6,70.6 39.8,72.1 42.2,73.3 44.7,74.4 47.5,75.2"/>
<polyline points="35.3,37.3 34.1,37.6 32.8,38.1 31.6,38.8 30.4,39.6 29.3,40.6 28.3,41.8 27.3,43.2 26.5,44.6 25.9,46.3 25.3,48.0 25.0,49.9 24.8,51.9 24.9,53.9 25.1,56.0 25.6,58.1 26.2,60.3 27.1,62.4 28.3,64.5 29.7,66.5 31.3,68.5 33.1,70.4 35.1,72.1 37.4,73.7 39.8,75.2"/>
<polyline points="36.5,35.5 35.2,35.5 33.9,35.7 32.5,36.1 31.2,36.7 29.9,37.4 28.6,38.3 27.4,39.4 26.2,40.7 25.2,42.1 24.3,43.7 23.6,45.5 23.0,47.3 22.6,49.3 22.3,51.4 22.3,53.6 22.5,55.8 22.9,58.1 23.5,60.4 24.4,62.7 25.5,65.0 26.9,67.3 28.5,69.4 30.4,71.5 32.4,73.4"/>
<polyline points="38.0,34.0 36.7,33.7 35.4,33.6 34.0,33.7 32.5,33.9 31.1,34.4 29.6,35.0 28.2,35.8 26.8,36.8 25.5,38.0 24.3,39.3 23.2,40.8 22.2,42.5 21.3,44.4 20.6,46.4 20.1,48.5 19.8,50.7 19.7,53.0 19.8,55.4 20.2,57.9 20.7,60.3 21.6,62.8 22.7,65.3 24.0,67.7 25.6,70.1"/>
<polyline points="39.8,32.8 38.6,32.3 37.3,31.9 35.9,31.7 34.5,31.6 33.0,31.7 31.4,32.0 29.9,32.4 28.3,33.1 26.8,34.0 25.3,35.0 23.8,36.2 22.5,37.7 21.2,39.3 20.1,41.1 19.1,43.0 18.3,45.1 17.7,47.4 17.3,49.7 17.1,52.2 17.1,54.7 17.4,57.3 17.9,60.0 18.7,62.6 19.7,65.3"/>
<polyline points="41.8,32.1 40.8,31.4 39.6,30.7 38.3,30.2 36.9,29.8 35.4,29.5 33.8,29.4 32.2,29.5 30.5,29.8 28.8,30.3 27.1,31.0 25.5,31.9 23.8,33.0 22.3,34.3 20.8,35.8 19.4,37.5 18.1,39.3 17.0,41.4 16.1,43.6 15.4,45.9 14.8,48.4 14.5,51.0 14.4,53.7 14.6,56.5 15.0,59.3"/>
<polyline points="43.9,31.9 43.1,30.9 42.1,30.0 40.9,29.2 39.7,28.5 38.3,27.9 36.8,27.5 35.1,27.2 33.4,27.2 31.7,27.3 29.9,27.6 28.0,28.0 26.2,28.7 24.4,29.7 22.6,30.8 20.9,32.1 19.3,33.7 17.7,35.4 16.3,37.4 15.1,39.5 14.0,41.8 13.1,44.2 12.4,46.8 11.9,49.6 11.7,52.4"/>
<polyline points="46.0,32.1 45.4,31.0 44.7,29.9 43.7,28.8 42.6,27.9 41.4,27.0 40.0,26.3 38.5,25.7 36.9,25.2 35.1,24.9 33.3,24.8 31.4,24.9 29.5,25.1 27.5,25.6 25.5,26.3 23.5,27.2 21.6,28.4 19.7,29.7 17.9,31.3 16.2,33.1 14.7,35.1 13.2,37.3 12.0,39.7 10.9,42.2 10.1,45.0"/>
<polyline points="48.0,32.8 47.7,31.6 47.2,30.3 46.5,29.1 45.7,27.9 44.7,26.8 43.5,25.8 42.1,24.8 40.7,24.0 39.0,23.4 37.3,22.8 35.4,22.5 33.4,22.3 31.4,22.4 29.3,22.6 27.2,23.1 25.0,23.7 22.9,24.6 20.8,25.8 18.8,27.2 16.8,28.8 14.9,30.6 13.2,32.6 11.6,34.9 10.1,37.3"/>
<polyline points="49.8,34.0 49.8,32.7 49.6,31.4 49.2,30.0 48.6,28.7 47.9,27.4 47.0,26.1 45.9,24.9 44.6,23.7 43.2,22.7 41.6,21.8 39.8,21.1 38.0,20.5 36.0,20.1 33.9,19.8 31.7,19.8 29.5,20.0 27.2,20.4 24.9,21.0 22.6,21.9 20.3,23.0 18.0,24.4 15.9,26.0 13.8,27.9 11.9,29.9"/>
<polyline points="51.3,35.5 51.6,34.2 51.7,32.9 51.6,31.5 51.4,30.0 50.9,28.6 50.3,27.1 49.5,25.7 48.5,24.3 47.3,23.0 46.0,21.8 44.5,20.7 42.8,19.7 40.9,18.8 38.9,18.1 36.8,17.6 34.6,17.3 32.3,17.2 29.9,17.3 27.4,17.7 25.0,18.2 22.5,19.1 20.0,20.2 17.6,21.5 15.2,23.1"/>
<polyline points="52.5,37.3 53.0,36.1 53.4,34.8 53.6,33.4 53.7,32.0 53.6,30.5 53.3,28.9 52.9,27.4 52.2,25.8 51.3,24.3 50.3,22.8 49.1,21.3 47.6,20.0 46.0,18.7 44.2,17.6 42.3,16.6 40.2,15.8 37.9,15.2 35.6,14.8 33.1,14.6 30.6,14.6 28.0,14.9 25.3,15.4 22.7,16.2 20.0,17.2"/>
<polyline points="53.2,39.3 53.9,38.3 54.6,37.1 55.1,35.8 55.5,34.4 55.8,32.9 55.9,31.3 55.8,29.7 55.5,28.0 55.0,26.3 54.3,24.6 53.4,23.0 52.3,21.3 51.0,19.8 49.5,18.3 47.8,16.9 46.0,15.6 43.9,14.5 41.7,13.6 39.4,12.9 36.9,12.3 34.3,12.0 31.6,11.9 28.8,12.1 26.0,12.5"/>
</g>
<text x="87.5" y="37.8" font-size="19.6" stroke="#000" stroke-width="0.7">BUREAU OF</text>
<text x="87.5" y="65.3" font-size="19.45" stroke="#000" stroke-width="0.7">METEOROLOGY</text>
<text x="733.5" y="53.1" font-size="10.6" textLength="263.5" lengthAdjust="spacingAndGlyphs">For that area of northern Australia within the thick line,</text>
<text x="733.5" y="66.8" font-size="10.6" textLength="265.5" lengthAdjust="spacingAndGlyphs">May-Jul rainfall is commonly low and contributes only a</text>
<text x="733.5" y="80.5" font-size="10.6" textLength="157" lengthAdjust="spacingAndGlyphs">small fraction of the annual total.</text>
<text x="362" y="703.6" font-size="21.2" text-anchor="middle" stroke="#000" stroke-width="0.4">Chance of exceeding the median Rainfall</text>
<text x="361" y="727.6" font-size="21" text-anchor="middle" stroke="#000" stroke-width="0.4">May to July 2001</text>
<text x="362.5" y="754.4" font-size="17.5" text-anchor="middle" stroke="#000" stroke-width="0.5">Product of the National Climate Centre</text>
<text x="6" y="788" font-size="11.5" font-weight="bold">http://www.bom.gov.au</text>
<text x="1" y="809.6" font-size="11.5" font-weight="bold">© Commonwealth of Australia 2001, Bureau of Meteorology</text>
<text x="1097.5" y="809.6" font-size="11.7" font-weight="bold" text-anchor="end">Issued: 03/04/2001</text>
</svg>
</body></html>
